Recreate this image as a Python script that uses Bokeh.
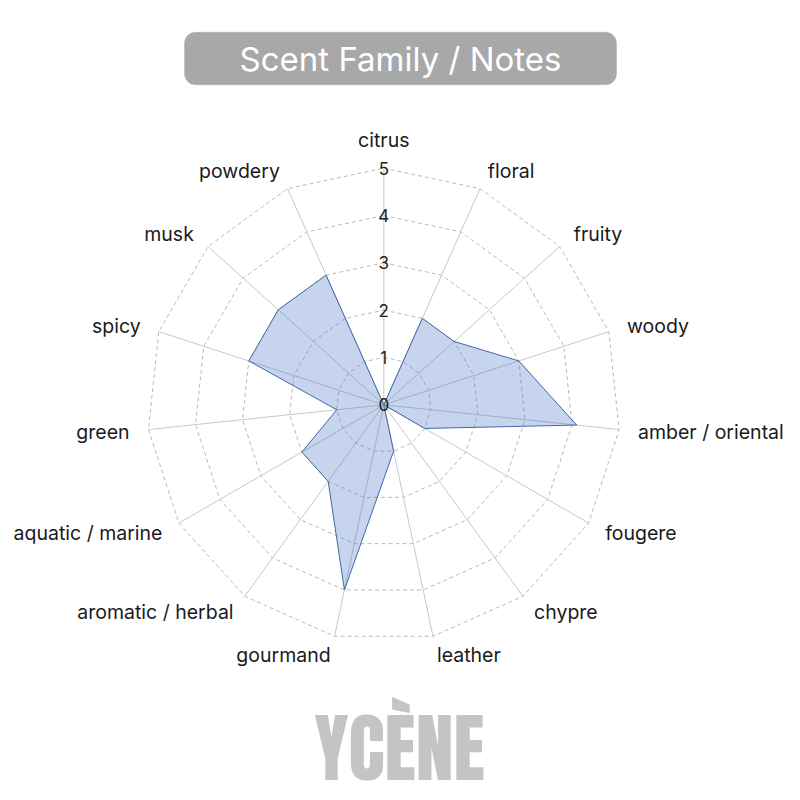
import math
from bokeh.plotting import figure
from bokeh.models import Range1d, BoxAnnotation
from bokeh.core.properties import value
from bokeh.embed import file_html
from bokeh.resources import INLINE

categories = ["citrus", "floral", "fruity", "woody", "amber / oriental", "fougere",
              "chypre", "leather", "gourmand", "aromatic / herbal", "aquatic / marine",
              "green", "spicy", "musk", "powdery"]
values = [0, 2, 2, 3, 4.1, 1, 0, 1, 4, 2, 2, 1, 3, 3, 3]
tick_values = [0, 1, 2, 3, 4, 5]
tick_labels = ["0", "1", "2", "3", "4", "5"]
title_text = "Scent Family / Notes"
brand_text = "YCÈNE"

W = H = 784
CX, CY = 383.3, 404.3
MAXV = 5
R = 236.6
S = R / MAXV
N = len(categories)
theta = [math.pi / 2 - i * 2 * math.pi / N for i in range(N)]
FONT = value("Inter")

p = figure(width=W, height=H, output_backend="svg", toolbar_location=None,
           x_range=Range1d(-CX, W - CX), y_range=Range1d(-(H - CY), CY),
           min_border=0, outline_line_color=None)
p.axis.visible = False
p.grid.visible = False
p.background_fill_color = "white"

# rings
rx, ry = [], []
for lv in tick_values[1:]:
    rx.append([lv * S * math.cos(t) for t in theta] + [lv * S * math.cos(theta[0])])
    ry.append([lv * S * math.sin(t) for t in theta] + [lv * S * math.sin(theta[0])])
p.multi_line(rx, ry, line_color="#bababa", line_width=1, line_dash="4 3")

# spokes
p.segment([0] * N, [0] * N, [R * math.cos(t) for t in theta], [R * math.sin(t) for t in theta],
          line_color="#c8c8c8", line_width=1)

# data
dx = [v * S * math.cos(t) for v, t in zip(values, theta)]
dy = [v * S * math.sin(t) for v, t in zip(values, theta)]
p.patch(dx, dy, fill_color="#4472C4", fill_alpha=0.3, line_color="#4169AA", line_width=1)

# tick labels
p.text([0] * len(tick_values), [v * S for v in tick_values], text=tick_labels,
       text_font=FONT, text_font_size="17px", text_color="#222222",
       text_align="center", text_baseline="middle")

# category labels
lx, ly, la = [], [], []
for t in theta:
    c = math.cos(t)
    al = "left" if c > 0.01 else ("right" if c < -0.01 else "center")
    lr = R + (28 if al == "center" else 19)
    lx.append(lr * c)
    ly.append(lr * math.sin(t))
    la.append(al)
p.text(lx, ly, text=categories, text_align=la, text_font=FONT,
       text_font_size="19.5px", text_color="#1a1a1a", text_baseline="middle")

# title box
p.add_layout(BoxAnnotation(left=-199.3, right=232.7, top=372.6, bottom=320.0,
                           fill_color="#a8a8a8", fill_alpha=1.0, line_color="#9c9c9c",
                           line_width=1, border_radius=11, level="underlay"))
p.text([16.7], [346.3], text=[title_text], text_font=FONT,
       text_font_size="33px", text_color="white", text_align="center", text_baseline="middle")

# brand
p.text([15.9], [-342.7], text=[brand_text],
       text_font=value("Anton, 'Bebas Neue', Oswald, sans-serif"),
       text_font_size="76px", text_color="#c4c4c4",
       text_align="center", text_baseline="middle")

open("out.html", "w").write(file_html(p, INLINE))
